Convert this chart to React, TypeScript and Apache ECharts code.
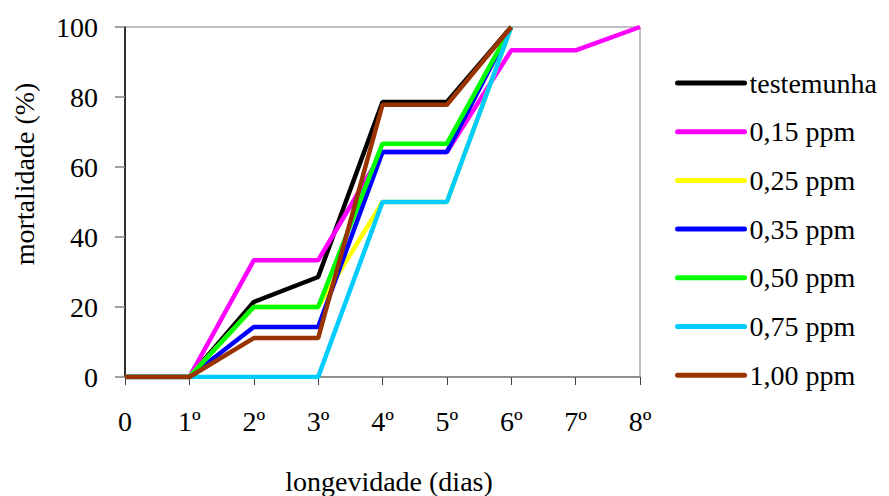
import React, { useEffect, useRef } from "react";
import * as echarts from "echarts";

const categories = ["0", "1º", "2º", "3º", "4º", "5º", "6º", "7º", "8º"];
const yTicks = [0, 20, 40, 60, 80, 100];

const seriesNames = ["testemunha", "0,15 ppm", "0,25 ppm", "0,35 ppm", "0,50 ppm", "0,75 ppm", "1,00 ppm"];
const seriesColors = ["#000000", "#FF00FF", "#FFFF00", "#0000FF", "#00FF00", "#00CCFF", "#993300"];

const testemunha = [0, 0, 21.43, 28.57, 78.57, 78.57, 100, null, null];
const ppm015 = [0, 0, 33.33, 33.33, 64.29, 64.29, 93.33, 93.33, 100];
const ppm025 = [0, 0, 20, 20, 50, 50, 100, null, null];
const ppm035 = [0, 0, 14.29, 14.29, 64.29, 64.29, 100, null, null];
const ppm050 = [0, 0, 20, 20, 66.67, 66.67, 100, null, null];
const ppm075 = [0, 0, 0, 0, 50, 50, 100, null, null];
const ppm100 = [0, 0, 11.11, 11.11, 77.78, 77.78, 100, null, null];

const seriesData = [testemunha, ppm015, ppm025, ppm035, ppm050, ppm075, ppm100];

const FONT = "Liberation Serif, Times New Roman, serif";

export default function App() {
  const ref = useRef<HTMLDivElement>(null);

  useEffect(() => {
    if (!ref.current) return;
    const chart = echarts.init(ref.current, undefined, { renderer: "svg" });
    chart.setOption({
      animation: false,
      backgroundColor: "#ffffff",
      grid: {
        left: 125,
        top: 27,
        right: 249,
        bottom: 119,
        show: true,
        borderColor: "#808080",
        borderWidth: 1,
        backgroundColor: "transparent",
      },
      xAxis: {
        type: "category",
        data: categories,
        boundaryGap: false,
        axisLine: { show: true, lineStyle: { color: "#808080", width: 1.5 } },
        axisTick: { show: true, alignWithLabel: true, length: 8, lineStyle: { color: "#404040", width: 1 } },
        axisLabel: { color: "#000", fontFamily: FONT, fontSize: 28, margin: 30 },
        splitLine: { show: false },
      },
      yAxis: {
        type: "value",
        min: yTicks[0],
        max: yTicks[yTicks.length - 1],
        interval: 20,
        axisLine: { show: true, lineStyle: { color: "#000", width: 1.5 } },
        axisTick: { show: true, length: 10, lineStyle: { color: "#808080", width: 1.5 } },
        axisLabel: { color: "#000", fontFamily: FONT, fontSize: 28, margin: 27 },
        splitLine: { show: false },
      },
      legend: {
        orient: "vertical",
        left: 675,
        top: 69,
        padding: 0,
        itemWidth: 67,
        itemHeight: 1,
        itemGap: 20.7,
        itemStyle: { opacity: 0 },
        lineStyle: { width: 5, cap: "round" },
        textStyle: { color: "#000", fontFamily: FONT, fontSize: 28, lineHeight: 28 },
        data: seriesNames,
      },
      graphic: [
        {
          type: "text",
          x: 24,
          y: 174,
          rotation: Math.PI / 2,
          style: {
            text: "mortalidade (%)",
            fontFamily: FONT,
            fontSize: 28,
            fill: "#000",
            textAlign: "center",
            textVerticalAlign: "middle",
          },
        },
        {
          type: "text",
          x: 389,
          y: 481,
          style: {
            text: "longevidade (dias)",
            fontFamily: FONT,
            fontSize: 28,
            fill: "#000",
            textAlign: "center",
            textVerticalAlign: "middle",
          },
        },
      ],
      series: seriesNames.map((name, i) => ({
        name,
        type: "line",
        data: seriesData[i].map((v) => (v === null ? "-" : v)),
        symbol: "none",
        showSymbol: false,
        color: seriesColors[i],
        lineStyle: { color: seriesColors[i], width: 4.5 },
        itemStyle: { color: seriesColors[i] },
      })),
    });
    return () => chart.dispose();
  }, []);

  return <div ref={ref} style={{ position: "fixed", left: 0, top: 0, width: 889, height: 496 }} />;
}
